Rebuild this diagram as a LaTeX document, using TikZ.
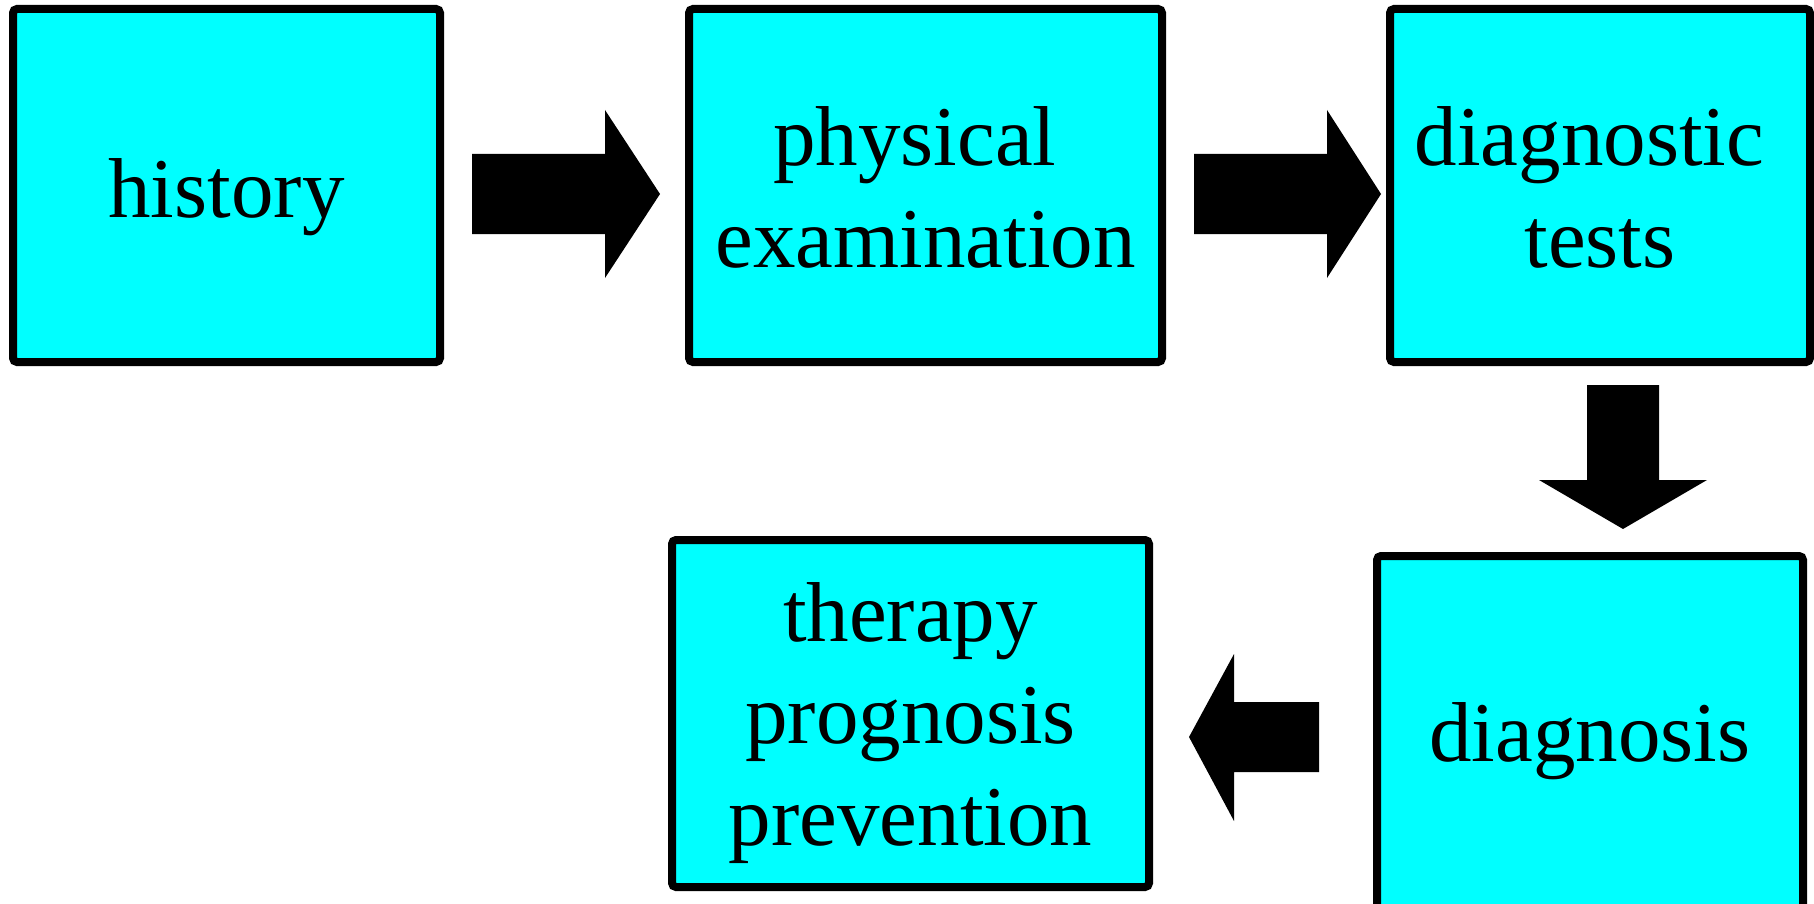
\documentclass[tikz,border=0pt]{standalone}
\usepackage{fontspec}
\setmainfont{Liberation Serif}
\definecolor{boxcyan}{RGB}{0,255,255}
\newcommand\stacklines[1]{\begin{tabular}[t]{@{}c@{}}#1\end{tabular}}
\tikzset{
  box/.style={rectangle, draw=black, fill=boxcyan, line width=8pt, rounded corners=4pt, inner sep=0pt},
  lbl/.style={anchor=base, inner sep=0pt, font=\fontsize{85}{102}\selectfont},
  blockarrow/.style={fill=black},
}
\begin{document}
\begin{tikzpicture}[x=1pt,y=-1pt]
\useasboundingbox (0,0) rectangle (1814,904);
% boxes
\node[box, minimum width=427pt, minimum height=353pt] (hist) at (226.5,185.5) {};
\node[box, minimum width=473pt, minimum height=353pt] (phys) at (925.5,185.5) {};
\node[box, minimum width=420pt, minimum height=353pt] (diag) at (1600,185.5) {};
\node[box, minimum width=426pt, minimum height=369pt] (dgn) at (1590,740.5) {};
\node[box, minimum width=477pt, minimum height=347pt] (ther) at (910.5,713.5) {};
% texts
\node[lbl] (histT) at (226.5,217) {history};
\node[lbl] (physT) at (925.5,166) {\stacklines{physical\kern.25em\\examination}};
\node[lbl] (diagT) at (1600,166) {\stacklines{diagnostic\kern.25em\\tests}};
\node[lbl] (dgnT) at (1590,761) {diagnosis};
\node[lbl] (therT) at (910.5,641) {\stacklines{therapy\\prognosis\\prevention}};
% block arrows
\coordinate (a1) at (472,193);
\coordinate (a2) at (1194,193);
\coordinate (a3) at (1623,385);
\coordinate (a4) at (1319,737);
\fill[blockarrow] (a1) ++(0,-39) -- ++(133,0) -- ++(0,-44) -- ++(55,84) -- ++(-55,84) -- ++(0,-44) -- ++(-133,0) -- cycle;
\fill[blockarrow] (a2) ++(0,-39) -- ++(133,0) -- ++(0,-44) -- ++(54,84) -- ++(-54,84) -- ++(0,-44) -- ++(-133,0) -- cycle;
\fill[blockarrow] (a3) ++(-36,0) -- ++(0,95) -- ++(-48,0) -- ++(84,49) -- ++(84,-49) -- ++(-48,0) -- ++(0,-95) -- cycle;
\fill[blockarrow] (a4) ++(0,-35) -- ++(-85,0) -- ++(0,-48) -- ++(-45,83) -- ++(45,84) -- ++(0,-49) -- ++(85,0) -- cycle;
\end{tikzpicture}
\end{document}
